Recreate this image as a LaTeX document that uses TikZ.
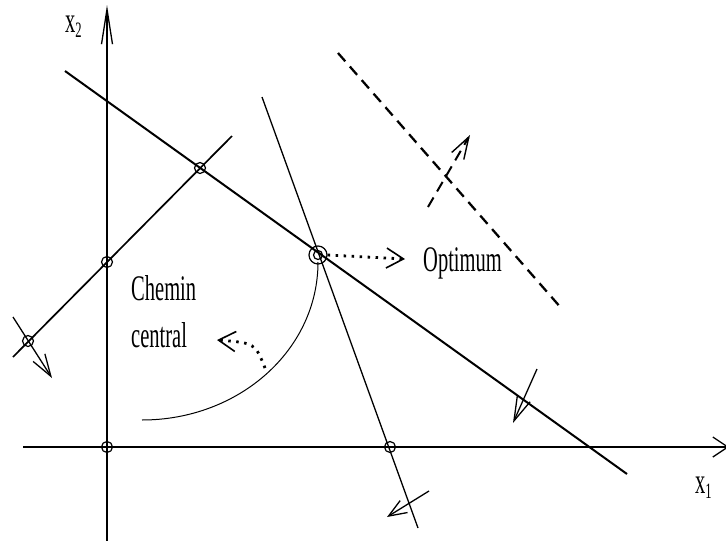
\documentclass[tikz,border=0pt]{standalone}
\usepackage{fontspec}
\setmainfont{Liberation Serif}
\usepackage{graphicx}
\usetikzlibrary{arrows.meta}
\newcommand\mylbl[1]{\scalebox{0.57}[1]{\fontsize{36}{43}\selectfont #1}}
\newcommand\mysub[1]{\raisebox{-5pt}{\fontsize{22}{22}\selectfont #1}}
\begin{document}
\begin{tikzpicture}[x=1pt,y=-1pt,
  pt/.style={circle,draw,line width=1.2pt,minimum size=11pt,inner sep=0pt},
  optpt/.style={circle,draw,line width=1.2pt,minimum size=18pt,inner sep=0pt},
  txt/.style={anchor=base west,inner sep=0pt},
  axisline/.style={line width=1.3pt},
  barbarrow/.style={line width=1.3pt,-{Straight Barb[length=#1,width=14pt]}},
  dotarrow/.style={line width=2.8pt,dash pattern=on 2.5pt off 5.5pt,-{Straight Barb[length=17pt,width=20pt,line width=1.6pt]}}
]
\useasboundingbox (0,0) rectangle (726,541);
% axes
\coordinate (ybot) at (107,541);
\coordinate (ytop) at (107,5);
\coordinate (xl) at (23,447);
\coordinate (xr) at (729,447);
\draw[axisline,-{Straight Barb[length=35pt,width=11pt]}] (ybot) -- (ytop);
\draw[axisline,-{Straight Barb[length=15pt,width=20pt]}] (xl) -- (xr);
% constraint lines
\coordinate (l1a) at (65,71);
\coordinate (l1b) at (627,474);
\coordinate (l2a) at (232,136);
\coordinate (l2b) at (13,357);
\coordinate (l3a) at (262,97);
\coordinate (l3b) at (418,528);
\draw[line width=2pt] (l1a) -- (l1b);
\draw[line width=1.7pt] (l2a) -- (l2b);
\draw[line width=1.3pt] (l3a) -- (l3b);
% vertices
\node[pt] (p1) at (200,168) {};
\node[pt] (p2) at (107,262) {};
\node[pt] (p3) at (28,341) {};
\node[pt] (p4) at (107,447) {};
\node[pt] (p5) at (390,447) {};
\node[optpt] (opt) at (318,255) {};
\node[pt,minimum size=9pt] (optin) at (318,255) {};
% direction arrows
\coordinate (a1s) at (13,317);
\coordinate (a1e) at (52,378);
\draw[barbarrow=22pt] (a1s) -- (a1e);
\coordinate (a2s) at (537,369);
\coordinate (a2e) at (513,423);
\draw[barbarrow=24pt] (a2s) -- (a2e);
\coordinate (a3s) at (429,491);
\coordinate (a3e) at (387,517);
\draw[barbarrow=18pt] (a3s) -- (a3e);
% objective level line
\coordinate (da) at (338,53);
\coordinate (db) at (562,309);
\draw[line width=2.3pt,dash pattern=on 11pt off 7pt] (da) -- (db);
\coordinate (oas) at (428,207);
\coordinate (oae) at (470,135);
\draw[line width=2pt,dash pattern=on 11pt off 7pt,-{Straight Barb[length=22pt,width=14pt,line width=1.4pt]}] (oas) -- (oae);
% central path
\coordinate (cps) at (318,262);
\coordinate (cpe) at (142,420);
\draw[line width=1pt] (cps) .. controls (318,350) and (239,420) .. (cpe);
% labels
\node[txt] (x2lab) at (65,32) {\mylbl{x\mysub{2}}};
\node[txt] (x1lab) at (695,493) {\mylbl{x\mysub{1}}};
\node[txt] (optlab) at (423,271) {\mylbl{Optimum}};
\node[txt] (chem1) at (131,300) {\mylbl{Chemin}};
\node[txt] (chem2) at (131,347) {\mylbl{central}};
% label arrows
\coordinate (oarr) at (405,259);
\draw[dotarrow] (opt.east) -- (oarr);
\coordinate (carrs) at (265,368);
\coordinate (carre) at (217,340);
\draw[dotarrow] (carrs) .. controls (255,343) .. (carre);
\end{tikzpicture}
\end{document}
